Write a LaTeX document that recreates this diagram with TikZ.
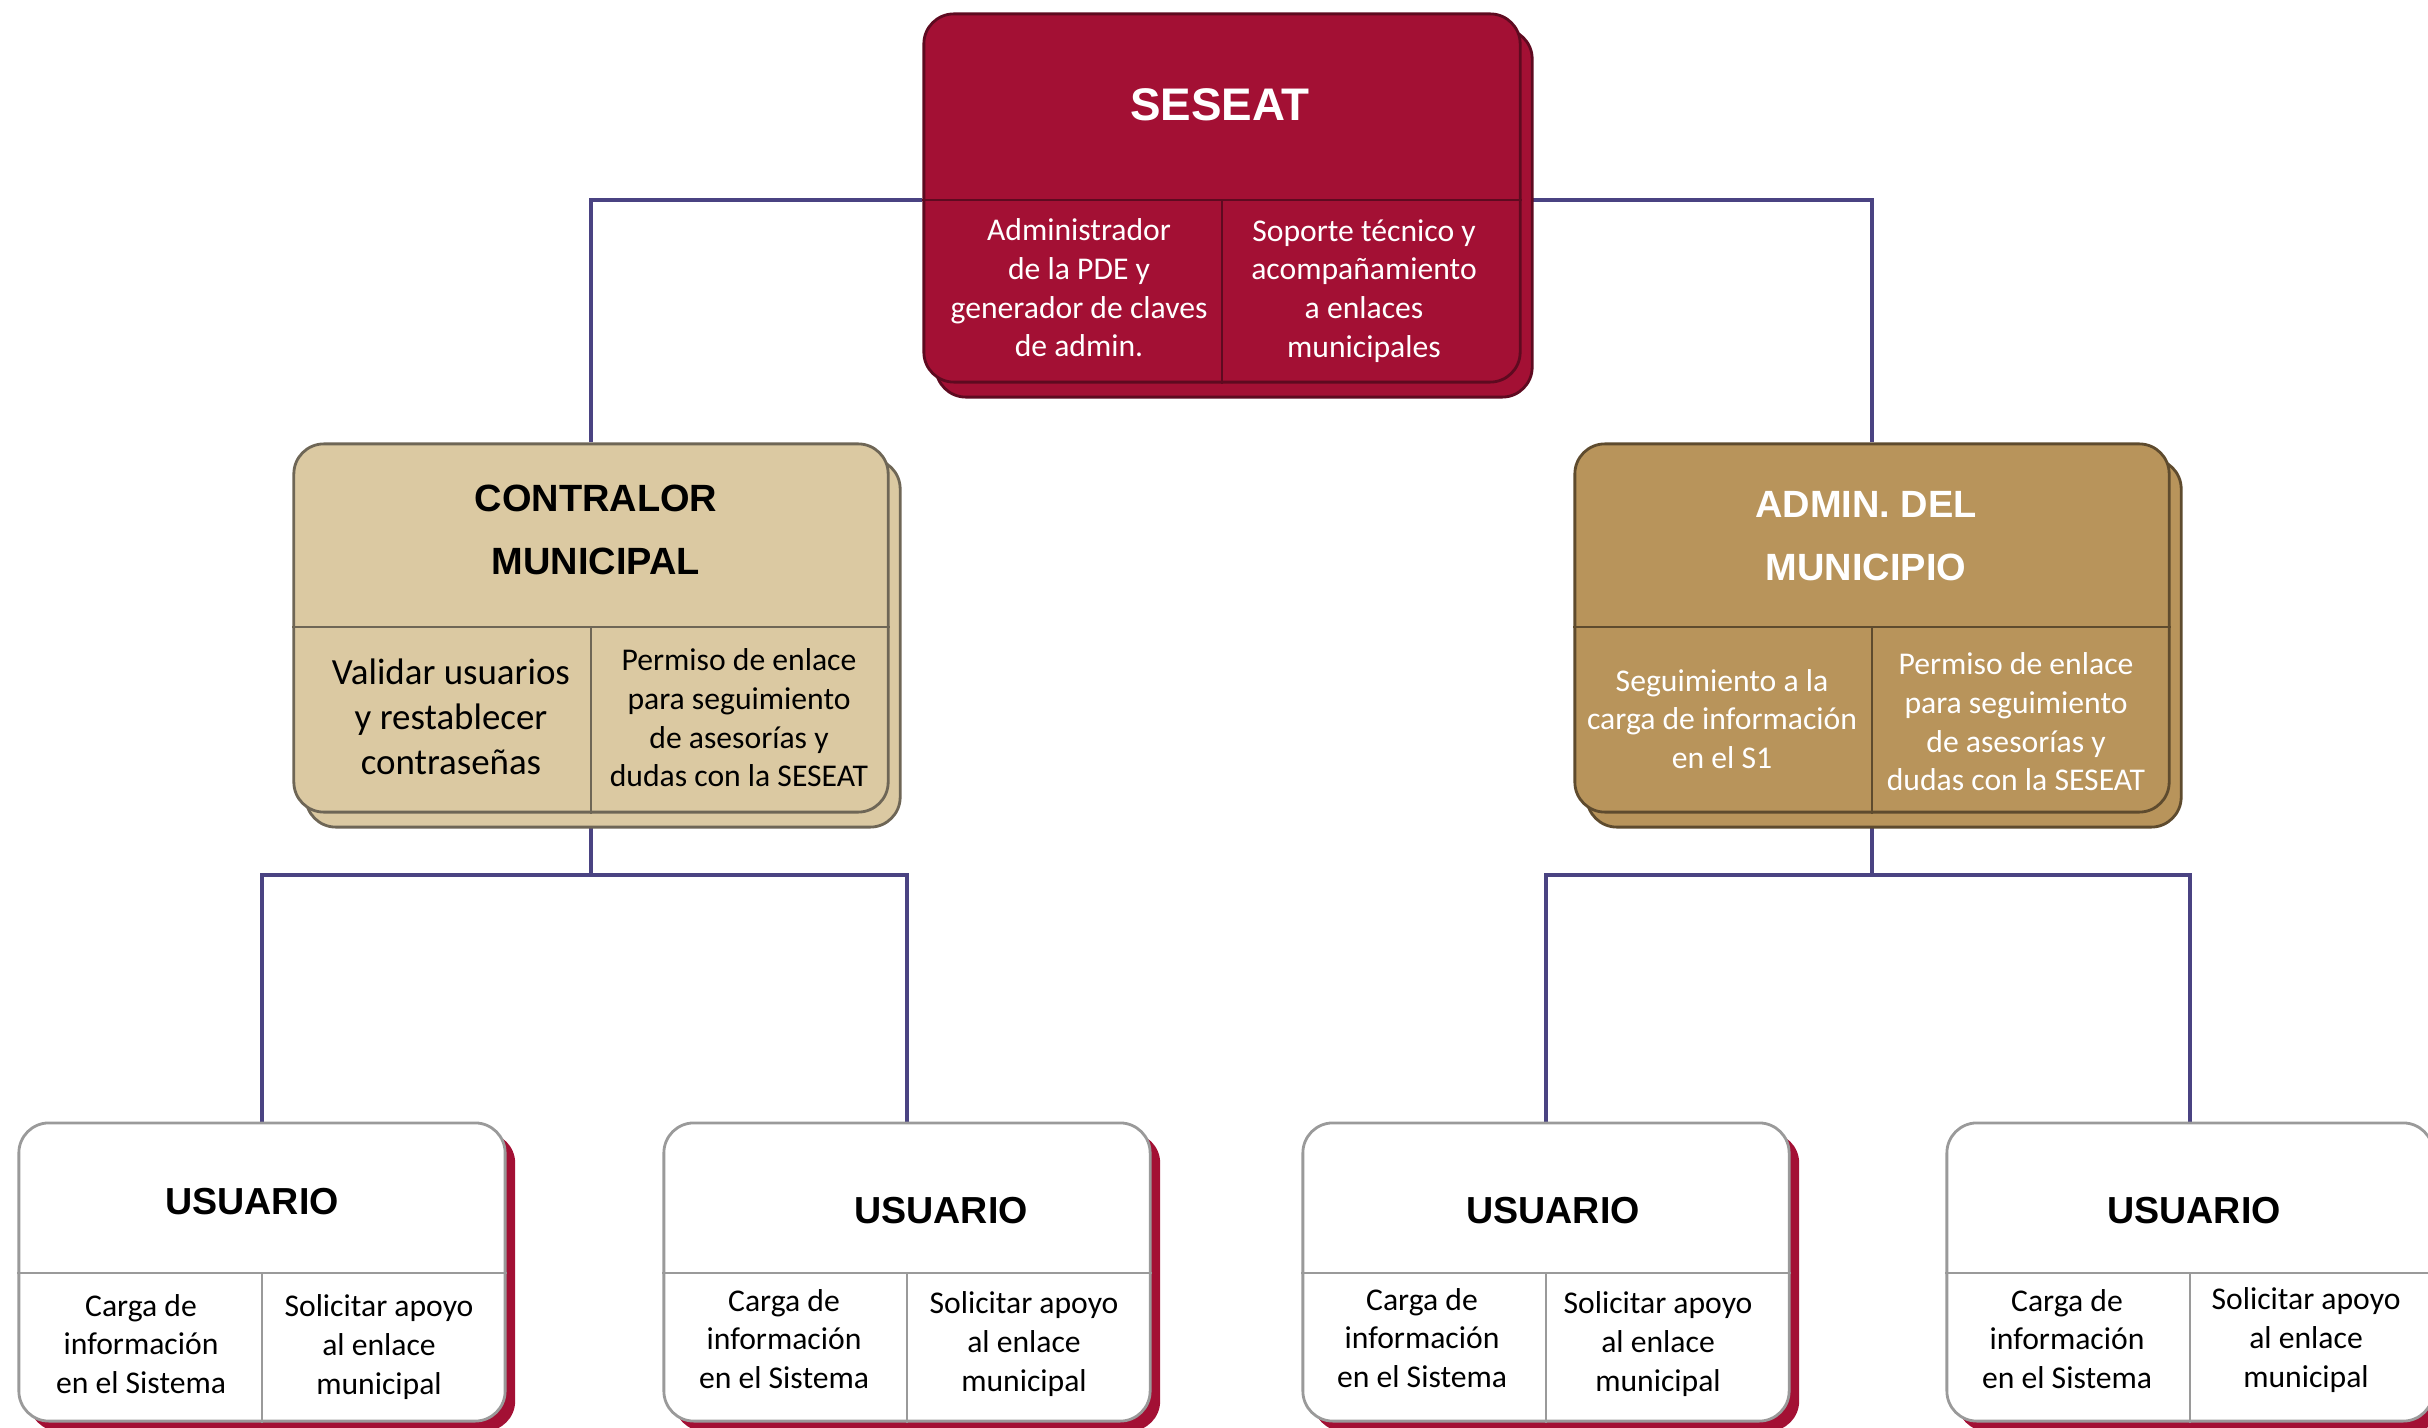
\documentclass[tikz,border=0pt]{standalone}
\usepackage{fontspec}
\setmainfont{Carlito}
\newfontfamily\headfont{Liberation Sans}
\usepackage{tikz}
\usetikzlibrary{shadows,backgrounds}
\definecolor{seseatred}{HTML}{A31034}
\definecolor{seseatedge}{HTML}{5E0A20}
\definecolor{contralortan}{HTML}{DBC9A2}
\definecolor{contraloredge}{HTML}{6E6656}
\definecolor{adminbrown}{HTML}{B8945B}
\definecolor{adminedge}{HTML}{5E4B2E}
\definecolor{usuarioedge}{HTML}{9A9A9A}
\definecolor{linkblue}{HTML}{4A4382}

\begin{document}
\begin{tikzpicture}[x=0.01cm,y=-0.01cm,
    box/.style={rounded corners=0.3cm, line width=0.8pt, inner sep=0pt},
    bigbox/.style={box, minimum width=5.94cm, minimum height=3.68cm,
      copy shadow={shadow xshift=0.12cm, shadow yshift=-0.15cm}},
    userbox/.style={box, fill=white, draw=usuarioedge, minimum width=4.86cm, minimum height=2.98cm,
      general shadow={fill=seseatred, shadow xshift=0.1cm, shadow yshift=-0.1cm}},
    title/.style={font=\headfont\bfseries\fontsize{10.8}{18}\selectfont, align=center},
    cell/.style={font=\fontsize{9}{11}\selectfont, align=center},
    divider/.style={line width=0.8pt},
    link/.style={draw=linkblue, line width=0.9pt}]
    \useasboundingbox (0,0) rectangle (2428,1428);

    \node[bigbox, minimum width=5.96cm, fill=seseatred, draw=seseatedge] (seseat) at (1222,198) {};
    \node[bigbox, fill=contralortan, draw=contraloredge] (contralor) at (591,628) {};
    \node[bigbox, fill=adminbrown, draw=adminedge] (admin) at (1872,628) {};
    \node[userbox] (usr1) at (262,1272) {};
    \node[userbox] (usr2) at (907,1272) {};
    \node[userbox] (usr3) at (1546,1272) {};
    \node[userbox] (usr4) at (2190,1272) {};

    \coordinate (cbus) at (591,875);
    \coordinate (abus) at (1872,875);
    \begin{scope}[on background layer]
        \draw[link] (seseat.west |- 0,200) -| (contralor.north);
        \draw[link] (seseat.east |- 0,200) -| (admin.north);
        \draw[link] (contralor.south) -- (cbus);
        \draw[link] (usr1.north) |- (cbus) -| (usr2.north);
        \draw[link] (admin.south) -- (abus);
        \draw[link] (usr3.north) |- (abus) -| (usr4.north);
    \end{scope}

    \draw[divider, seseatedge] (seseat.west |- 0,200) -- (seseat.east |- 0,200);
    \draw[divider, seseatedge] (seseat.center |- 0,200) -- (seseat.south);
    \draw[divider, contraloredge] (contralor.west |- 0,627) -- (contralor.east |- 0,627);
    \draw[divider, contraloredge] (contralor.center |- 0,627) -- (contralor.south);
    \draw[divider, adminedge] (admin.west |- 0,627) -- (admin.east |- 0,627);
    \draw[divider, adminedge] (admin.center |- 0,627) -- (admin.south);
    \draw[divider, usuarioedge] (usr1.west |- 0,1273) -- (usr1.east |- 0,1273);
    \draw[divider, usuarioedge] (usr1.center |- 0,1273) -- (usr1.south);
    \draw[divider, usuarioedge] (usr2.west |- 0,1273) -- (usr2.east |- 0,1273);
    \draw[divider, usuarioedge] (usr2.center |- 0,1273) -- (usr2.south);
    \draw[divider, usuarioedge] (usr3.west |- 0,1273) -- (usr3.east |- 0,1273);
    \draw[divider, usuarioedge] (usr3.center |- 0,1273) -- (usr3.south);
    \draw[divider, usuarioedge] (usr4.west |- 0,1273) -- (usr4.east |- 0,1273);
    \draw[divider, usuarioedge] (usr4.center |- 0,1273) -- (usr4.south);

    \node[title, white, font=\headfont\bfseries\fontsize{13}{16}\selectfont] (seseattitle) at (1220,105) {SESEAT};
    \node[cell, white] (seseatleft) at (1079,288) {Administrador\\de la PDE y\\generador de claves\\de admin.};
    \node[cell, white] (seseatright) at (1364,291) {Soporte técnico y\\acompañamiento\\a enlaces\\municipales};

    \node[title] (contralortitle) at (596,530) {CONTRALOR\\MUNICIPAL};
    \node[cell, font=\fontsize{10.5}{12.8}\selectfont] (contralorleft) at (451,717) {Validar usuarios\\y restablecer\\contraseñas};
    \node[cell] (contraloright) at (739,718) {Permiso de enlace\\para seguimiento\\de asesorías y\\dudas con la SESEAT};

    \node[title, white] (admintitle) at (1866,536) {ADMIN. DEL\\MUNICIPIO};
    \node[cell, white] (adminleft) at (1722,719) {Seguimiento a la\\carga de información\\en el S1};
    \node[cell, white] (adminright) at (2016,722) {Permiso de enlace\\para seguimiento\\de asesorías y\\dudas con la SESEAT};

    \node[title, font=\headfont\bfseries\fontsize{10.7}{13}\selectfont] (usr1title) at (252,1202) {USUARIO};
    \node[cell] (usr1left) at (141,1344) {Carga de\\información\\en el Sistema};
    \node[cell] (usr1right) at (379,1347) {Solicitar apoyo\\al enlace\\municipal};

    \node[title, font=\headfont\bfseries\fontsize{10.7}{13}\selectfont] (usr2title) at (941,1211) {USUARIO};
    \node[cell] (usr2left) at (784,1339) {Carga de\\información\\en el Sistema};
    \node[cell] (usr2right) at (1024,1344) {Solicitar apoyo\\al enlace\\municipal};

    \node[title, font=\headfont\bfseries\fontsize{10.7}{13}\selectfont] (usr3title) at (1553,1211) {USUARIO};
    \node[cell] (usr3left) at (1422,1338) {Carga de\\información\\en el Sistema};
    \node[cell] (usr3right) at (1658,1344) {Solicitar apoyo\\al enlace\\municipal};

    \node[title, font=\headfont\bfseries\fontsize{10.7}{13}\selectfont] (usr4title) at (2194,1211) {USUARIO};
    \node[cell] (usr4left) at (2067,1339) {Carga de\\información\\en el Sistema};
    \node[cell] (usr4right) at (2306,1340) {Solicitar apoyo\\al enlace\\municipal};
\end{tikzpicture}
\end{document}
